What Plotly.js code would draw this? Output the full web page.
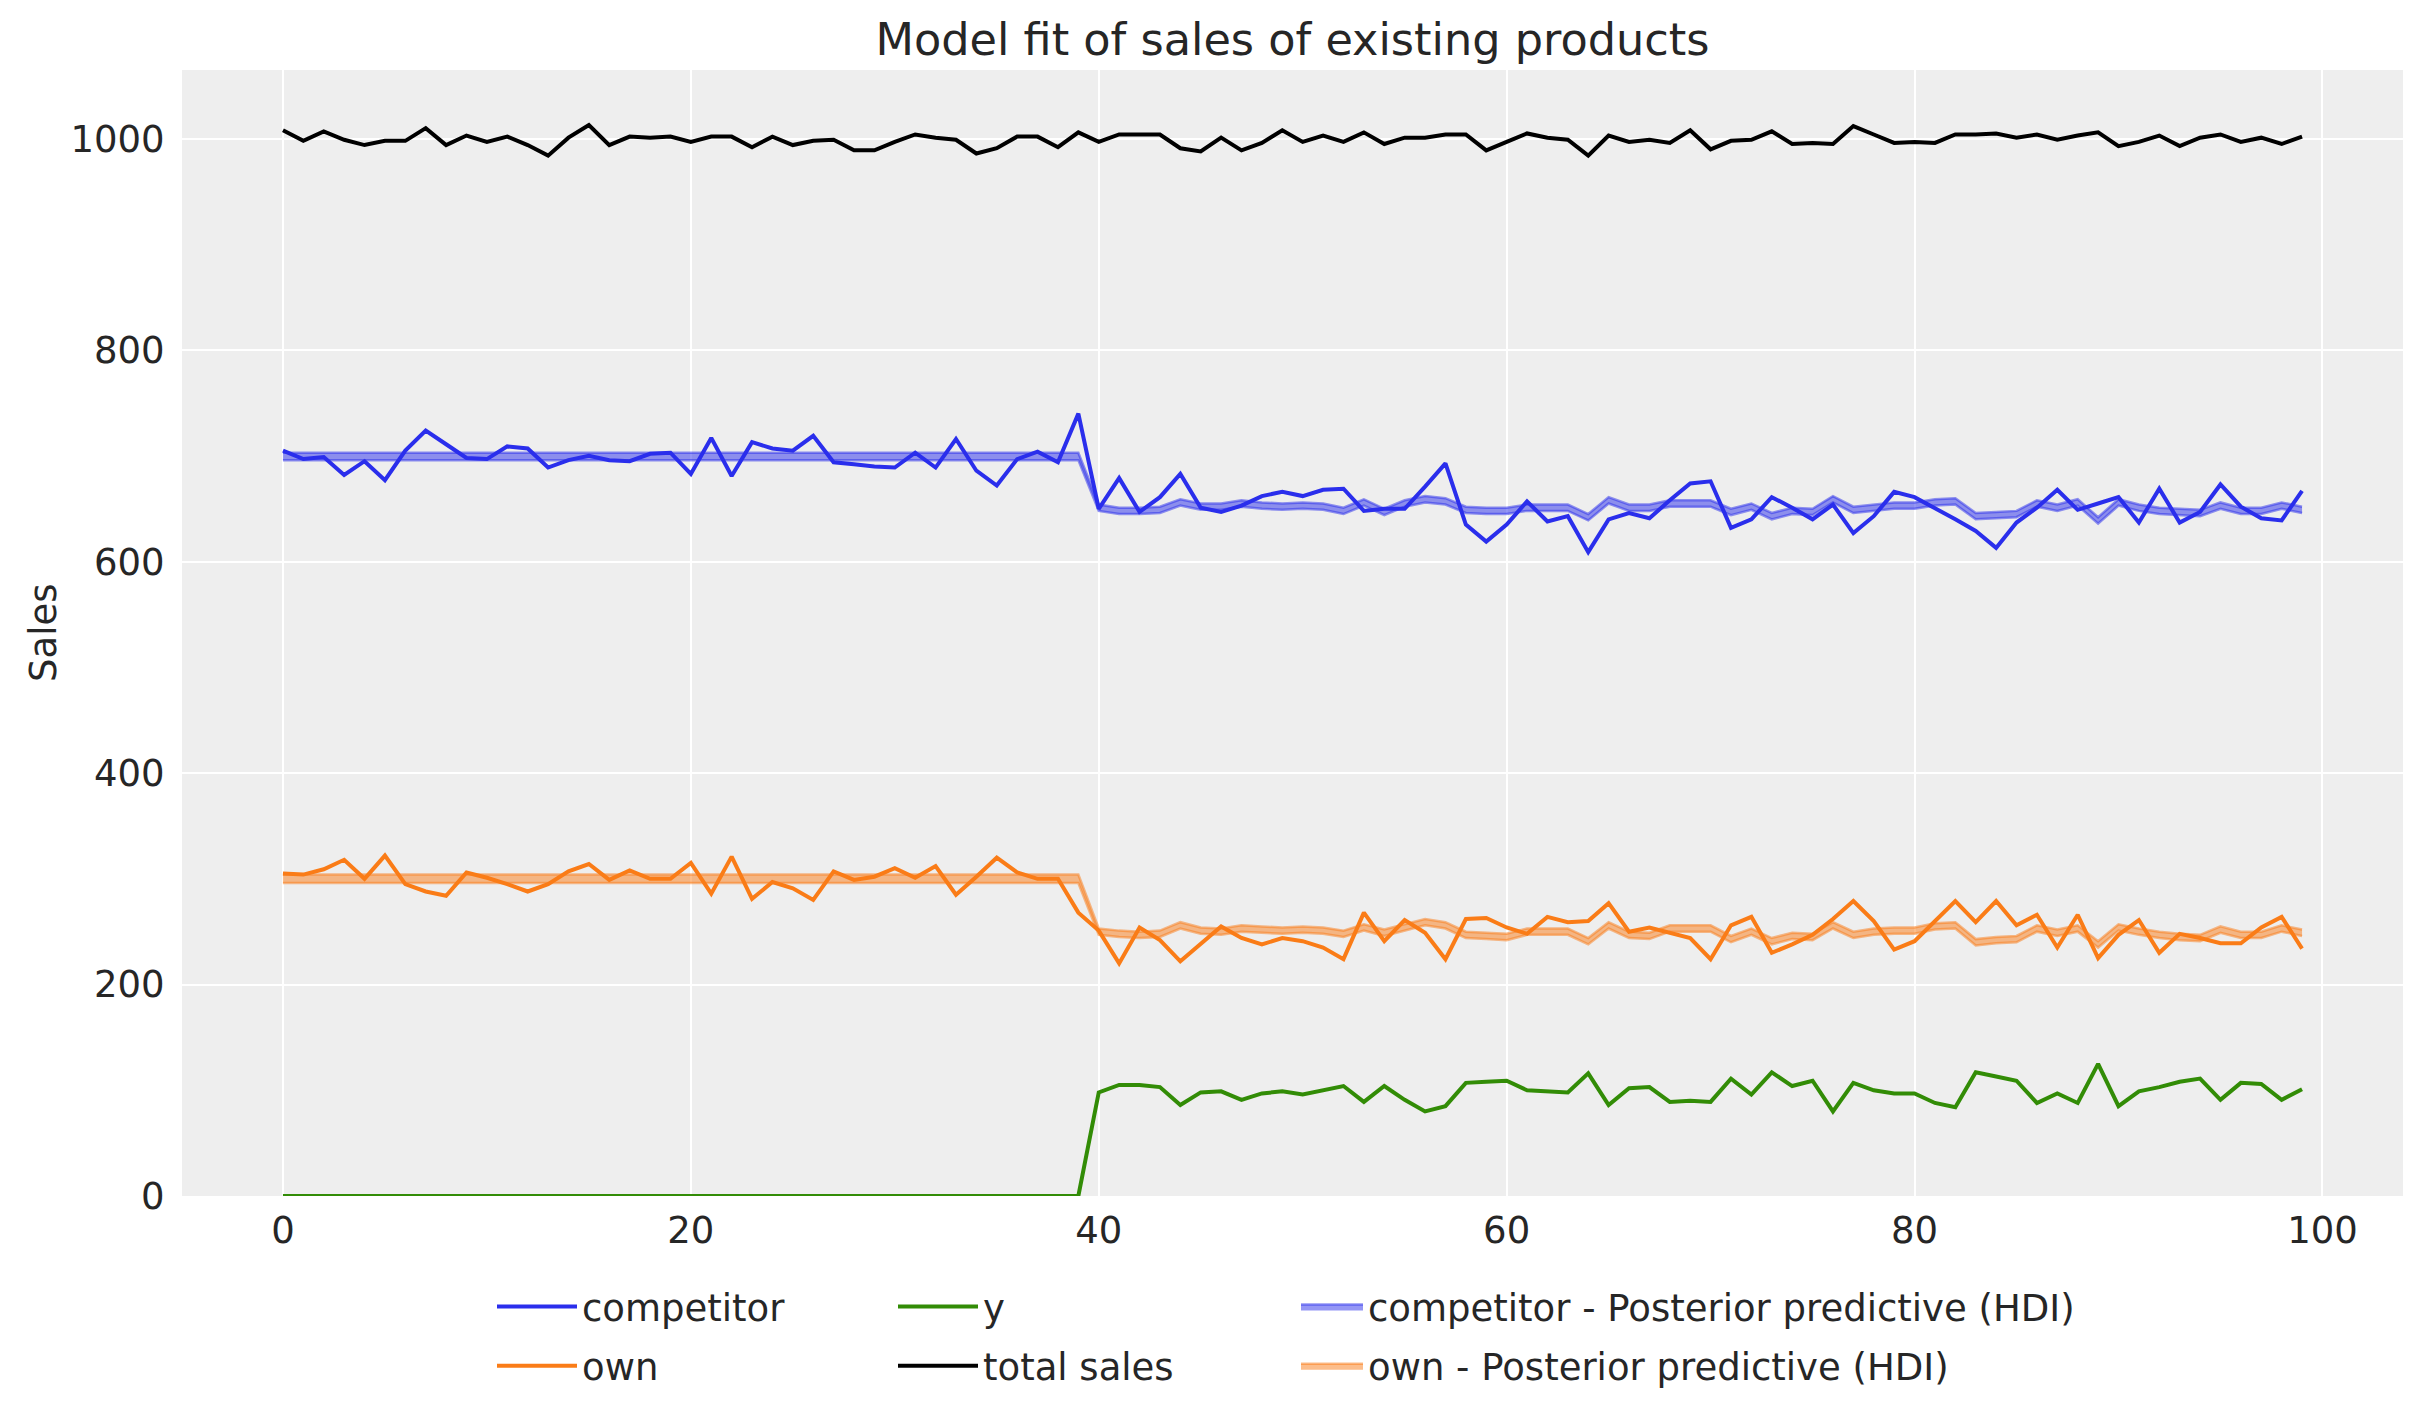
<!DOCTYPE html>
<html><head><meta charset="utf-8">
<script src="https://cdn.plot.ly/plotly-3.0.1.min.js"></script>
<style>html,body{margin:0;padding:0;background:#fff}#chart{width:2423px;height:1423px}</style>
</head><body><div id="chart"></div>
<script>
const timeIdx = [0,1,2,3,4,5,6,7,8,9,10,11,12,13,14,15,16,17,18,19,20,21,22,23,24,25,26,27,28,29,30,31,32,33,34,35,36,37,38,39,40,41,42,43,44,45,46,47,48,49,50,51,52,53,54,55,56,57,58,59,60,61,62,63,64,65,66,67,68,69,70,71,72,73,74,75,76,77,78,79,80,81,82,83,84,85,86,87,88,89,90,91,92,93,94,95,96,97,98,99];

const competitor = [705,697,699,682,695,677,705,724,711,698, 697,709,707,689,696,700,696,695,702,703, 683,717,681,713,707,705,719,694,692,690, 689,703,689,716,686,672,697,704,694,740, 650,679,647,661,683,651,647,653,662,666, 662,668,669,648,650,650,671,693,635,619, 635,657,638,643,609,640,646,641,658,674, 676,632,640,661,651,640,654,627,643,666, 661,651,640,629,613,637,651,668,649,655, 661,637,669,637,647,673,652,641,639,667];

const own = [305,304,309,318,300,322,295,288,284,306, 301,295,288,295,307,314,299,308,300,300, 315,286,321,281,297,291,280,307,299,302, 310,301,312,285,302,320,306,300,300,268, 251,220,254,242,222,239,255,244,238,244, 241,235,224,268,241,261,249,224,262,263, 254,248,264,259,260,277,250,254,249,244, 224,256,264,230,238,247,262,279,260,233, 241,260,279,259,279,256,266,235,266,225, 247,261,230,248,244,239,239,254,264,234];

const ySeries = [0,0,0,0,0,0,0,0,0,0, 0,0,0,0,0,0,0,0,0,0, 0,0,0,0,0,0,0,0,0,0, 0,0,0,0,0,0,0,0,0,0, 98,105,105,103,86,98,99,91,97,99, 96,100,104,89,104,91,80,85,107,108, 109,100,99,98,116,86,102,103,89,90, 89,111,96,117,104,109,80,107,100,97, 97,88,84,117,113,109,88,97,88,125, 85,99,103,108,111,91,107,106,91,101];

const totalSales = [1008,998,1007,999,994,998,998,1010,994,1003, 997,1002,994,984,1001,1013,994,1002,1001,1002, 997,1002,1002,992,1002,994,998,999,989,989, 997,1004,1001,999,986,991,1002,1002,992,1006, 997,1004,1004,1004,991,988,1001,989,996,1008, 997,1003,997,1006,995,1001,1001,1004,1004,989, 997,1005,1001,999,984,1003,997,999,996,1008, 990,998,999,1007,995,996,995,1012,1004,996, 997,996,1004,1004,1005,1001,1004,999,1003,1006, 993,997,1003,993,1001,1004,997,1001,995,1002];

const compHdiLow = [696,696,696,696,696,696,696,696,696,696, 696,696,696,696,696,696,696,696,696,696, 696,696,696,696,696,696,696,696,696,696, 696,696,696,696,696,696,696,696,696,696, 648,645,645,646,653,649,649,652,650,649, 650,649,645,653,644,652,656,654,646,645, 645,648,648,648,639,655,648,648,652,652, 652,644,649,640,645,644,656,646,648,650, 650,653,654,640,641,642,652,648,653,636, 653,648,645,644,643,650,645,645,650,646];
const compHdiHigh = [703,703,703,703,703,703,703,703,703,703, 703,703,703,703,703,703,703,703,703,703, 703,703,703,703,703,703,703,703,703,703, 703,703,703,703,703,703,703,703,703,703, 654,651,651,652,659,655,655,658,656,655, 656,655,651,659,650,658,662,660,652,651, 651,654,654,654,645,661,654,654,658,658, 658,650,655,646,651,650,662,652,654,656, 656,659,660,646,647,648,658,654,659,642, 659,654,651,650,649,656,651,651,656,652];
const ownHdiLow = [296,296,296,296,296,296,296,296,296,296, 296,296,296,296,296,296,296,296,296,296, 296,296,296,296,296,296,296,296,296,296, 296,296,296,296,296,296,296,296,296,296, 247,245,244,245,253,248,247,250,249,248, 249,248,245,251,246,251,256,253,244,243, 242,247,247,247,238,253,244,243,250,250, 250,240,247,238,243,242,253,244,247,248, 248,252,253,237,239,240,250,246,250,235, 251,247,244,242,241,249,244,244,250,246];
const ownHdiHigh = [304,304,304,304,304,304,304,304,304,304, 304,304,304,304,304,304,304,304,304,304, 304,304,304,304,304,304,304,304,304,304, 304,304,304,304,304,304,304,304,304,304, 253,251,250,251,259,254,253,256,255,254, 255,254,251,257,252,257,262,259,250,249, 248,253,253,253,244,259,250,249,256,256, 256,246,253,244,249,248,259,250,253,254, 254,258,259,243,245,246,256,252,256,241, 257,253,250,248,247,255,250,250,256,252];

const xTickVals = [0,20,40,60,80,100];
const xTickText = ['0','20','40','60','80','100'];
const yTickVals = [0,200,400,600,800,1000];
const yTickText = ['0','200','400','600','800','1000'];

const FONT = 'DejaVu Sans, Liberation Sans, sans-serif';
const TXT = '#262626';
const C_COMP = '#2a2eec', C_OWN = '#fa7c17', C_Y = '#328c06', C_TOT = '#000000';
const C_COMP_A = 'rgba(42,46,236,0.5)', C_OWN_A = 'rgba(250,124,23,0.5)';
const LW = 4;

const traces = [
  {x: timeIdx, y: compHdiLow, mode:'lines', line:{color:C_COMP_A, width:2.5}, showlegend:false, legendgroup:'chdi', legend:'legend3', hoverinfo:'skip'},
  {x: timeIdx, y: compHdiHigh, mode:'lines', fill:'tonexty', fillcolor:C_COMP_A, line:{color:C_COMP_A, width:2.5}, name:'competitor - Posterior predictive (HDI)', legendgroup:'chdi', legend:'legend3', hoverinfo:'skip'},
  {x: timeIdx, y: ownHdiLow, mode:'lines', line:{color:C_OWN_A, width:2.5}, showlegend:false, legendgroup:'ohdi', legend:'legend3', hoverinfo:'skip'},
  {x: timeIdx, y: ownHdiHigh, mode:'lines', fill:'tonexty', fillcolor:C_OWN_A, line:{color:C_OWN_A, width:2.5}, name:'own - Posterior predictive (HDI)', legendgroup:'ohdi', legend:'legend3', hoverinfo:'skip'},
  {x: timeIdx, y: competitor, mode:'lines', line:{color:C_COMP, width:LW}, name:'competitor', legendgroup:'comp', legend:'legend'},
  {x: timeIdx, y: own, mode:'lines', line:{color:C_OWN, width:LW}, name:'own', legendgroup:'own', legend:'legend'},
  {x: timeIdx, y: ySeries, mode:'lines', line:{color:C_Y, width:LW}, name:'y', legendgroup:'y', legend:'legend2'},
  {x: timeIdx, y: totalSales, mode:'lines', line:{color:C_TOT, width:LW}, name:'total sales', legendgroup:'tot', legend:'legend2'}
];

const W = 2423, H = 1423;
function legendAt(px, itemw){
  return {x: px / W, xref:'container', xanchor:'left', y: 1 - 1276 / H, yref:'container', yanchor:'top',
    orientation:'v', bgcolor:'rgba(0,0,0,0)', borderwidth:0, font:{family:FONT, size:37, color:TXT},
    itemwidth:itemw, tracegroupgap:8, traceorder:'grouped'};
}

const layout = {
  width: W, height: H,
  margin: {l:182, r:20, t:70, b:227, autoexpand:false},
  paper_bgcolor:'#ffffff', plot_bgcolor:'#eeeeee',
  font:{family:FONT, size:37, color:TXT},
  title:{text:'Model fit of sales of existing products', font:{family:FONT, size:44.6, color:TXT}, x:0.5, xref:'paper', xanchor:'center', y:1 - 39 / H, yref:'container', yanchor:'middle'},
  xaxis:{range:[-4.95,103.95], tickmode:'array', tickvals:xTickVals, ticktext:xTickText, showgrid:true, gridcolor:'#ffffff', gridwidth:2, zeroline:false, showline:false, ticks:'outside', ticklen:2, tickcolor:'rgba(0,0,0,0)', tickfont:{family:FONT, size:37, color:TXT}, automargin:false},
  yaxis:{range:[0,1065], tickmode:'array', tickvals:yTickVals, ticktext:yTickText, showgrid:true, gridcolor:'#ffffff', gridwidth:2, zeroline:false, showline:false, ticks:'outside', ticklen:9, tickcolor:'rgba(0,0,0,0)', tickfont:{family:FONT, size:37, color:TXT}, automargin:false},
  annotations:[{text:'Sales', xref:'paper', yref:'paper', x:(43 - 182) / 2221, y:0.5, xanchor:'center', yanchor:'middle', textangle:-90, showarrow:false, font:{family:FONT, size:37, color:TXT}}],
  legend: legendAt(492, 80),
  legend2: legendAt(893, 80),
  legend3: legendAt(1296, 62),
  showlegend:true
};

Plotly.newPlot('chart', traces, layout, {staticPlot:true, displayModeBar:false});
</script></body></html>
